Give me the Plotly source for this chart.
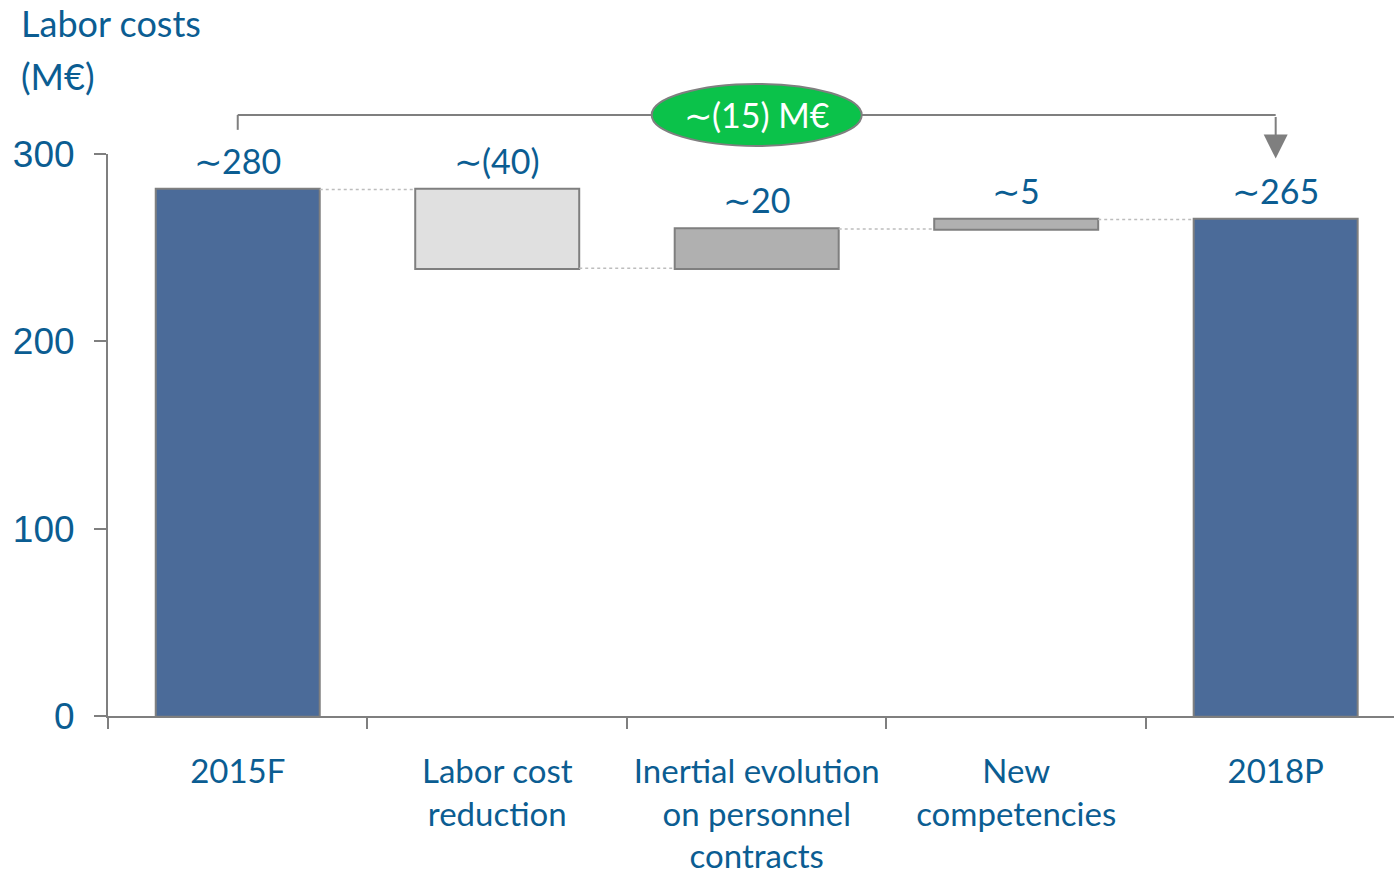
import plotly.graph_objects as go

# Labor cost bridge, 2015F -> 2018P (M€)
categories = ["2015F", "Labor cost<br>reduction", "Inertial evolution<br>on personnel<br>contracts",
              "New<br>competencies", "2018P"]
measures = ["absolute", "relative", "relative", "relative", "total"]
values = [281, -42, 21, 5, 265]
value_labels = ["∼280", "∼(40)", "∼20", "∼5", "∼265"]
y_ticks = [0, 100, 200, 300]
delta_label = "∼(15) M€"

BLUE_TEXT = "#0b5d92"
GRAY = "#7f7f7f"
FONT = "Lato"

fig = go.Figure(go.Waterfall(
    x=categories,
    y=values,
    measure=measures,
    totals=dict(marker=dict(color="#4b6b99", line=dict(color=GRAY, width=2))),
    decreasing=dict(marker=dict(color="#e0e0e0", line=dict(color=GRAY, width=2))),
    increasing=dict(marker=dict(color="#b0b0b0", line=dict(color=GRAY, width=2))),
    connector=dict(line=dict(color="#bdbdbd", width=1.5, dash="dot"), mode="between"),
    hoverinfo="skip",
))

# running tops of each bar for the value labels
tops = []
running = 0
for m, v in zip(measures, values):
    if m == "absolute":
        running = v
        tops.append(v)
    elif m == "total":
        tops.append(running)
    else:
        start = running
        running += v
        tops.append(max(start, running))

annotations = []
for cat, top, lab in zip(categories, tops, value_labels):
    annotations.append(dict(x=cat, y=top, xref="x", yref="y", text=lab, showarrow=False,
                            yanchor="bottom", yshift=7,
                            font=dict(family=FONT, size=34, color=BLUE_TEXT)))

# axis title in two lines, top-left
annotations.append(dict(x=-0.0695, y=1.233, xref="paper", yref="paper", text="Labor costs",
                        showarrow=False, xanchor="left", yanchor="middle",
                        font=dict(family=FONT, size=36, color=BLUE_TEXT)))
annotations.append(dict(x=-0.0695, y=1.139, xref="paper", yref="paper", text="(M€)",
                        showarrow=False, xanchor="left", yanchor="middle",
                        font=dict(family=FONT, size=36, color=BLUE_TEXT)))

# bracket from first to last bar, with arrow onto 2018P
bracket_y = 1.0695
annotations.append(dict(x=categories[-1], y=0.992, xref="x", yref="paper", text="",
                        showarrow=True, arrowhead=2, arrowsize=2.4, arrowwidth=2,
                        arrowcolor=GRAY, ax=0, ay=-43, axref="pixel", ayref="pixel"))
# ellipse label
annotations.append(dict(x=categories[2], y=bracket_y, xref="x", yref="paper", text=delta_label,
                        showarrow=False, yanchor="middle", xanchor="center",
                        font=dict(family=FONT, size=34, color="white")))

shapes = [
    dict(type="line", xref="x", yref="paper", x0=categories[0], x1=categories[0],
         y0=1.043, y1=bracket_y, line=dict(color=GRAY, width=2), layer="above"),
    dict(type="line", xref="x", yref="paper", x0=categories[0], x1=categories[-1],
         y0=bracket_y, y1=bracket_y, line=dict(color=GRAY, width=2), layer="above"),
    dict(type="circle", xref="x", yref="paper", xsizemode="pixel", ysizemode="pixel",
         xanchor=categories[2], yanchor=bracket_y, x0=-105, x1=105, y0=-31, y1=31,
         fillcolor="#0bc24a", line=dict(color=GRAY, width=2), layer="above"),
]

fig.update_layout(
    width=1394, height=875,
    margin=dict(l=108, r=0, t=154, b=159),
    paper_bgcolor="white", plot_bgcolor="white",
    showlegend=False,
    waterfallgap=0.368,
    annotations=annotations,
    shapes=shapes,
    xaxis=dict(
        type="category",
        range=[-0.5, 4.456],
        showgrid=False, zeroline=False,
        showline=True, linecolor=GRAY, linewidth=2,
        ticks="outside", tickson="boundaries", ticklen=11, tickwidth=2, tickcolor=GRAY,
        tickfont=dict(family=FONT, size=33, color=BLUE_TEXT),
        ticklabelstandoff=25,
    ),
    yaxis=dict(
        range=[0, 300],
        tickvals=y_ticks,
        showgrid=False, zeroline=False,
        showline=True, linecolor=GRAY, linewidth=2,
        ticks="outside", ticklen=12, tickwidth=2, tickcolor=GRAY,
        tickfont=dict(family="Liberation Sans", size=37, color=BLUE_TEXT),
        ticklabelstandoff=12,
    ),
)

fig.write_html("out.html")
